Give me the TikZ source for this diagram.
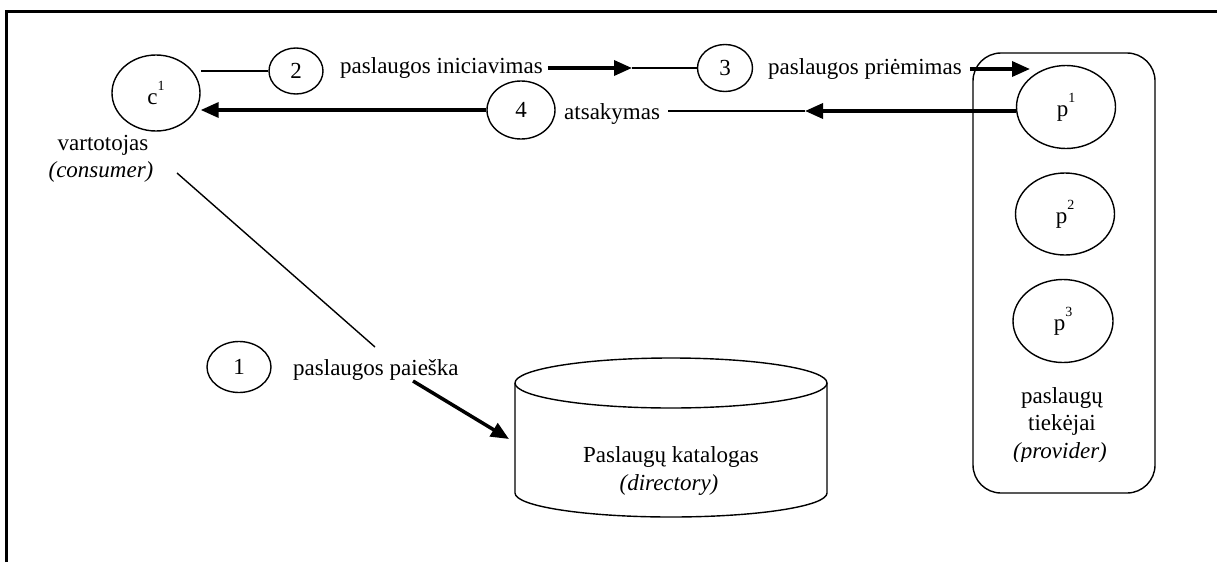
\documentclass[tikz,border=0pt]{standalone}
\usepackage{fontspec}
\setmainfont{Liberation Serif}
\usetikzlibrary{shapes.geometric,arrows.meta}
\newcommand\upnum[1]{\raisebox{0.6em}{\fontsize{14}{14}\selectfont #1}}
\begin{document}
\begin{tikzpicture}[x=1pt,y=-1pt,
  every node/.style={font=\fontsize{23}{27}\selectfont, inner sep=0pt},
  thinline/.style={line width=1.4pt},
  bubble/.style={draw, ellipse, thinline},
  heavy/.style={line width=3.5pt, -{Triangle[length=18pt,width=15pt]}},
  txt/.style={anchor=base west},
  ctxt/.style={anchor=base}]
\useasboundingbox (0,0) rectangle (1217,562);
\fill[white] (0,0) rectangle (1217,562);
% open frame: left and top edges only
\draw[line width=3pt] (6,562) -- (6,11) -- (1217,11);

% consumer
\node[bubble, minimum width=88pt, minimum height=76pt] (c1) at (156,93) {c\upnum{1}};
\node[ctxt] (tuser) at (103,150) {vartotojas};
\node[ctxt] (tuser2) at (101,177) {\textit{(consumer)}};

% numbered steps
\node[bubble, minimum width=54pt, minimum height=46pt] (e2) at (296,71) {2};
\node[bubble, minimum width=55pt, minimum height=47pt] (e3) at (725,68) {3};
\node[bubble, minimum width=68pt, minimum height=58pt] (e4) at (521,110) {4};
\node[bubble, minimum width=64pt, minimum height=51pt] (e1) at (239,367) {1};

% step labels
\node[txt] (tinit) at (340,73) {paslaugos iniciavimas};
\node[txt] (tacc) at (768,74) {paslaugos priėmimas};
\node[txt] (tresp) at (564,119) {atsakymas};
\node[txt] (tsearch) at (293,375) {paslaugos paieška};

% providers
\node[draw, thinline, rounded corners=28pt, minimum width=182pt, minimum height=440pt] (prov) at (1064,273) {};
\node[bubble, minimum width=99pt, minimum height=83pt] (p1) at (1066,107) {p\upnum{1}};
\node[bubble, minimum width=99pt, minimum height=82pt] (p2) at (1065,214) {p\upnum{2}};
\node[bubble, minimum width=100pt, minimum height=83pt] (p3) at (1063,321) {p\upnum{3}};
\node[ctxt] (tprov1) at (1062,403) {paslaugų};
\node[ctxt] (tprov2) at (1062,430) {tiekėjai};
\begin{scope}
  \clip (980,436) rectangle (1150,461);
  \node[ctxt] (tprov3) at (1060,458) {\textit{(provider)}};
\end{scope}

% directory
\draw[thinline] (515,383) -- (515,493) arc[start angle=180, end angle=360, x radius=156pt, y radius=24pt] -- (827,383);
\draw[thinline] (671,383) ellipse [x radius=156pt, y radius=25pt];
\node[ctxt] (tdir) at (671,462) {Paslaugų katalogas};
\node[ctxt] (tdir2) at (669,490) {\textit{(directory)}};

% connectors
\coordinate (tipA) at (632,68);
\coordinate (tipB) at (1030,69);
\coordinate (tipC) at (805,111);
\coordinate (qa) at (177,173);
\coordinate (qb) at (375,347);
\coordinate (qs) at (413,381);
\coordinate (dirin) at (509,439);

\draw[thinline] (e2.west) -- (e2.west -| c1.east);
\draw[heavy] ([xshift=5pt]tinit.east |- tipA) -- (tipA);
\draw[thinline] (tipA) -- (e3.west);
\draw[heavy] ([xshift=8pt]tacc.east |- tipB) -- (tipB);
\draw[heavy] (p1.west |- tipC) -- (tipC);
\draw[thinline] (tipC) -- ([xshift=8pt]tresp.east |- tipC);
\draw[heavy] (e4.west) -- (e4.west -| c1.east);
\draw[thinline] (qa) -- (qb);
\draw[heavy] (qs) -- (dirin);
\end{tikzpicture}
\end{document}
